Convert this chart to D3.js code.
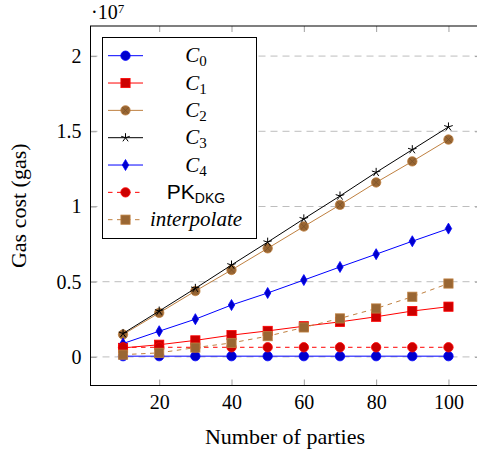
<!DOCTYPE html>
<html>
<head>
<meta charset="utf-8">
<script src="https://cdn.jsdelivr.net/npm/d3@7"></script>
<style>
body { margin: 0; background: #fff; }
text { font-family: "Liberation Serif", serif; fill: #000; }
</style>
</head>
<body>
<script>
// Data (gas)
var parties = [10, 20, 30, 40, 50, 60, 70, 80, 90, 100];
var c0 = [50000, 50000, 50000, 50000, 50000, 50000, 50000, 50000, 50000, 50000];
var c1 = [600000, 810000, 1100000, 1450000, 1730000, 2040000, 2330000, 2670000, 3050000, 3340000];
var c2 = [1490000, 2930000, 4380000, 5780000, 7220000, 8670000, 10110000, 11600000, 13000000, 14450000];
var c3 = [1560000, 3050000, 4560000, 6110000, 7630000, 9180000, 10700000, 12270000, 13780000, 15290000];
var c4 = [890000, 1710000, 2510000, 3450000, 4250000, 5110000, 5980000, 6830000, 7690000, 8530000];
var pkDkg = [640000, 640000, 640000, 640000, 640000, 640000, 640000, 640000, 640000, 640000];
var interp = [150000, 270000, 620000, 930000, 1380000, 1960000, 2560000, 3220000, 4000000, 4880000];

var xTicks = [20, 40, 60, 80, 100];
var yTicks = [0, 5000000, 10000000, 15000000, 20000000];
var yTickLabels = ["0", "0.5", "1", "1.5", "2"];

var series = [
    { name: "C", sub: "0", values: c0, color: "#0000ff", fill: "#0000cc", mark: "circle", dash: null },
    { name: "C", sub: "1", values: c1, color: "#ff0000", fill: "#cc0000", mark: "square", dash: null },
    { name: "C", sub: "2", values: c2, color: "#bf8040", fill: "#996633", mark: "otimes", dash: null },
    { name: "C", sub: "3", values: c3, color: "#000000", fill: "none", mark: "star", dash: null },
    { name: "C", sub: "4", values: c4, color: "#0000ff", fill: "#0000cc", mark: "diamond", dash: null },
    { name: "PK", sub: "DKG", values: pkDkg, color: "#ff0000", fill: "#cc0000", mark: "circle", dash: "4.5,4.5", sans: true },
    { name: "interpolate", sub: null, values: interp, color: "#bf8040", fill: "#996633", mark: "square", dash: "4.5,4.5" }
];

var W = 477, H = 451;
var pLeft = 90.5, pTop = 26, pRight = 481, pBottom = 385.5;

var svg = d3.select("body").append("svg")
    .attr("width", W)
    .attr("height", H);

var x = d3.scaleLinear().domain([1, 109]).range([pLeft, pRight]);
var y = d3.scaleLinear().domain([-1900000, 22000000]).range([pBottom, pTop]);

// grid
svg.append("g").selectAll("line")
    .data(yTicks)
    .enter().append("line")
    .attr("x1", pLeft).attr("x2", pRight)
    .attr("y1", function (d) { return y(d); })
    .attr("y2", function (d) { return y(d); })
    .attr("stroke", "#bdbdbd")
    .attr("stroke-width", 1)
    .attr("stroke-dasharray", "7,5");

// axes (ticks inside, mirrored)
var fmtY = function (d) { return yTickLabels[yTicks.indexOf(d)]; };

var xAxis = d3.axisBottom(x).tickValues(xTicks).tickSizeInner(-6).tickSizeOuter(0).tickPadding(9);
var xAxisTop = d3.axisTop(x).tickValues(xTicks).tickSizeInner(-6).tickSizeOuter(0).tickFormat("");
var yAxis = d3.axisLeft(y).tickValues(yTicks).tickFormat(fmtY).tickSizeInner(-6).tickSizeOuter(0).tickPadding(9);
var yAxisRight = d3.axisRight(y).tickValues(yTicks).tickSizeInner(-6).tickSizeOuter(0).tickFormat("");

function styleAxis(g) {
    g.select(".domain").remove();
    g.selectAll(".tick line").attr("stroke", "#a0a0a0");
    g.selectAll(".tick text").style("font-family", "Liberation Serif").style("font-size", "20px").attr("fill", "#000");
}

svg.append("g").attr("transform", "translate(0," + pBottom + ")").call(xAxis).call(styleAxis);
svg.append("g").attr("transform", "translate(0," + pTop + ")").call(xAxisTop).call(styleAxis);
svg.append("g").attr("transform", "translate(" + pLeft + ",0)").call(yAxis).call(styleAxis);
svg.append("g").attr("transform", "translate(" + pRight + ",0)").call(yAxisRight).call(styleAxis);

// frame
svg.append("rect")
    .attr("x", pLeft).attr("y", pTop)
    .attr("width", pRight - pLeft).attr("height", pBottom - pTop)
    .attr("fill", "none")
    .attr("stroke", "#000")
    .attr("stroke-width", 1);

// markers
function drawMark(g, s, cx, cy) {
    if (s.mark == "circle") {
        g.append("circle").attr("cx", cx).attr("cy", cy).attr("r", 4.7)
            .attr("fill", s.fill).attr("stroke", s.color).attr("stroke-width", 0.8);
    } else if (s.mark == "square") {
        g.append("rect").attr("x", cx - 4.6).attr("y", cy - 4.6).attr("width", 9.2).attr("height", 9.2)
            .attr("fill", s.fill).attr("stroke", s.color).attr("stroke-width", 0.8);
    } else if (s.mark == "otimes") {
        g.append("circle").attr("cx", cx).attr("cy", cy).attr("r", 4.7)
            .attr("fill", s.fill).attr("stroke", s.color).attr("stroke-width", 0.8);
        var k = 3.3;
        g.append("path")
            .attr("d", "M" + (cx - k) + "," + (cy - k) + "L" + (cx + k) + "," + (cy + k) +
                "M" + (cx - k) + "," + (cy + k) + "L" + (cx + k) + "," + (cy - k))
            .attr("stroke", "#7a5228").attr("stroke-width", 0.8);
    } else if (s.mark == "star") {
        var p = "";
        for (var i = 0; i < 5; i++) {
            var a = -Math.PI / 2 + i * 2 * Math.PI / 5;
            p += "M" + cx + "," + cy + "L" + (cx + 4.5 * Math.cos(a)) + "," + (cy + 4.5 * Math.sin(a));
        }
        g.append("path").attr("d", p).attr("stroke", s.color).attr("stroke-width", 1).attr("fill", "none");
    } else if (s.mark == "diamond") {
        g.append("path")
            .attr("d", "M" + cx + "," + (cy - 5.5) + "L" + (cx + 3.2) + "," + cy + "L" + cx + "," + (cy + 5.5) +
                "L" + (cx - 3.2) + "," + cy + "Z")
            .attr("fill", s.fill).attr("stroke", s.color).attr("stroke-width", 0.8);
    }
}

var line = d3.line()
    .x(function (d) { return x(d[0]); })
    .y(function (d) { return y(d[1]); });

var plot = svg.append("g");
series.forEach(function (s) {
    var pts = parties.map(function (p, i) { return [p, s.values[i]]; });
    var g = plot.append("g");
    g.append("path")
        .attr("d", line(pts))
        .attr("fill", "none")
        .attr("stroke", s.color)
        .attr("stroke-width", 1)
        .attr("stroke-dasharray", s.dash);
    pts.forEach(function (d) { drawMark(g, s, x(d[0]), y(d[1])); });
});

// legend
var lg = svg.append("g");
lg.append("rect")
    .attr("x", 102.5).attr("y", 37.5)
    .attr("width", 154).attr("height", 201)
    .attr("fill", "#fff")
    .attr("stroke", "#000")
    .attr("stroke-width", 1);

series.forEach(function (s, i) {
    var ry = 55.7 + i * 27.33;
    lg.append("line")
        .attr("x1", 108).attr("x2", 143)
        .attr("y1", ry).attr("y2", ry)
        .attr("stroke", s.color)
        .attr("stroke-width", 1)
        .attr("stroke-dasharray", s.dash);
    drawMark(lg, s, 125.5, ry);

    var t = lg.append("text")
        .attr("x", 196).attr("y", ry + 6.5)
        .attr("text-anchor", "middle")
        .style("font-size", "21px");
    if (s.sans) {
        t.style("font-family", "Liberation Sans");
        t.append("tspan").text(s.name);
        t.append("tspan").attr("dy", 4).style("font-size", "14px").text(s.sub);
    } else if (s.sub) {
        t.append("tspan").style("font-style", "italic").text(s.name);
        t.append("tspan").attr("dy", 4).style("font-size", "15px").text(s.sub);
    } else {
        t.style("font-style", "italic").text(s.name);
    }
});

// exponent label
var ex = svg.append("text")
    .attr("x", 91).attr("y", 19)
    .style("font-size", "20px");
ex.append("tspan").text("\u00b710");
ex.append("tspan").attr("dy", -6).style("font-size", "13px").text("7");

// axis labels
svg.append("text")
    .attr("x", 285)
    .attr("y", 444)
    .attr("text-anchor", "middle")
    .style("font-size", "22px")
    .text("Number of parties");

svg.append("text")
    .attr("transform", "translate(26," + ((pTop + pBottom) / 2) + ") rotate(-90)")
    .attr("text-anchor", "middle")
    .style("font-size", "22px")
    .text("Gas cost (gas)");
</script>
</body>
</html>
